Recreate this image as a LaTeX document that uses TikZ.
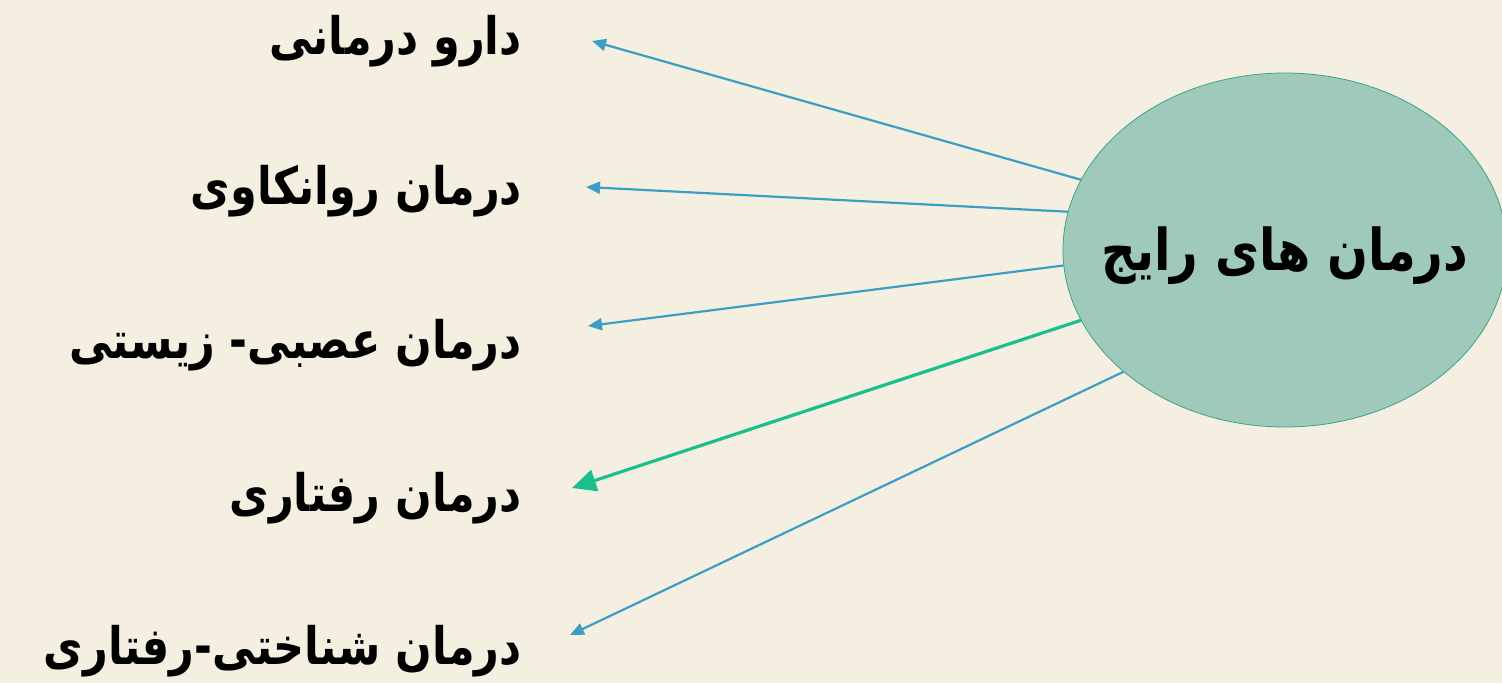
\documentclass[tikz,border=0pt]{standalone}
\usepackage{graphicx}
\usepackage{fontspec}
\usetikzlibrary{arrows.meta,shapes.geometric}
\newfontfamily\fafont[Script=Arabic]{DejaVu Sans}
\TeXXeTstate=1
\newcommand{\tallfa}[1]{\scalebox{1}[1.2]{\beginR #1\endR}}
\definecolor{bgc}{HTML}{F4EFE0}
\definecolor{ellfill}{HTML}{9FC9BA}
\definecolor{elldraw}{HTML}{3AA488}
\definecolor{bluearr}{HTML}{3C9EC6}
\definecolor{greenarr}{HTML}{1BBF8E}
\tikzset{
  lbl/.style={anchor=east,inner sep=0pt,font=\fafont\bfseries\fontsize{43}{50}\selectfont},
  bluelink/.style={draw=bluearr,line width=2.2pt,-{Triangle[length=14pt,width=12pt]},fill=bluearr},
  greenlink/.style={draw=greenarr,line width=3.2pt,-{Triangle[length=24pt,width=22pt]},fill=greenarr},
}
\begin{document}
\begin{tikzpicture}[x=1pt,y=-1pt]
\fill[bgc] (0,0) rectangle (1502,683);
\useasboundingbox (0,0) rectangle (1502,683);
\node[ellipse,draw=elldraw,fill=ellfill,line width=0.8pt,inner sep=0pt,minimum width=444pt,minimum height=354pt] (ell) at (1285,250) {};
\node[inner sep=0pt,font=\fafont\bfseries\fontsize{48}{56}\selectfont] (elltext) at (1285,256) {\tallfa{درمان های رایج}};
\node[lbl] (l1) at (522,41) {\tallfa{دارو درمانی}};
\node[lbl] (l2) at (522,191) {\tallfa{درمان روانکاوی}};
\node[lbl] (l3) at (522,345) {\tallfa{درمان عصبی- زیستی}};
\node[lbl] (l4) at (522,498) {\tallfa{درمان رفتاری}};
\node[lbl] (l5) at (522,651) {\tallfa{درمان شناختی-رفتاری}};
\coordinate (t1) at (592,41);
\coordinate (t2) at (586,187);
\coordinate (t3) at (588,326);
\coordinate (t4) at (572,488);
\coordinate (t5) at (570,635);
\draw[bluelink] (ell.161) -- (t1);
\draw[bluelink] (ell.170.4) -- (t2);
\draw[bluelink] (ell.184.2) -- (t3);
\draw[greenlink] (ell.199.8) -- (t4);
\draw[bluelink] (ell.217.1) -- (t5);
\end{tikzpicture}
\end{document}
